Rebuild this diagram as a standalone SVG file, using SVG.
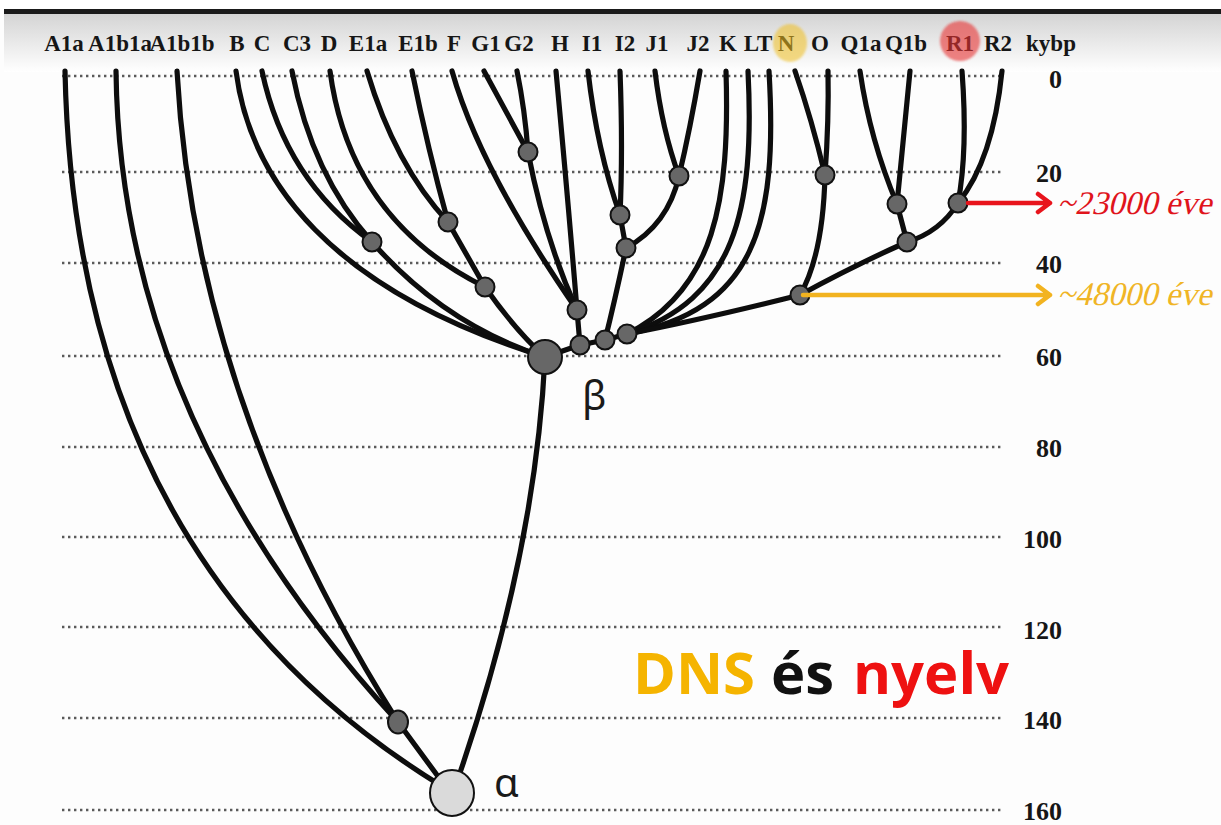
<svg xmlns="http://www.w3.org/2000/svg" width="1221" height="825" viewBox="0 0 1221 825">
<defs>
<linearGradient id="band" x1="0" y1="0" x2="0" y2="1">
<stop offset="0" stop-color="#d4d4d4"/>
<stop offset="1" stop-color="#ffffff"/>
</linearGradient>
<filter id="soft" x="-30%" y="-30%" width="160%" height="160%"><feGaussianBlur stdDeviation="1.2"/></filter>
</defs>
<style>
.grid{stroke:#5a5a5a;stroke-width:2.4;stroke-dasharray:2.4 3.6;fill:none}
.br{fill:none;stroke:#0d0d0d;stroke-width:5.2;stroke-linecap:round}
.nd{fill:#676767;stroke:#111;stroke-width:2}
.lab{font-family:"Liberation Serif","Times New Roman",serif;font-weight:bold;font-size:23px;fill:#161616;text-anchor:middle}
.num{font-family:"Liberation Serif","Times New Roman",serif;font-weight:bold;font-size:26px;fill:#161616;text-anchor:end}
.age{font-family:"Liberation Serif","Times New Roman",serif;font-size:33px}
.greek{font-family:"Noto Sans","DejaVu Sans",sans-serif;font-size:40px;fill:#1a1a1a}
.title{font-family:"Open Sans","Noto Sans",sans-serif;font-weight:bold;font-size:58px}
.arr{fill:none;stroke-width:4.5;stroke-linecap:round;stroke-linejoin:round}
</style>
<rect x="0" y="0" width="1221" height="825" fill="#fdfdfd"/>
<rect x="0" y="0" width="1221" height="10" fill="#ffffff"/>
<rect x="4" y="14" width="1217" height="58" fill="url(#band)"/>
<rect x="4" y="9" width="1217" height="5" fill="#1a1a1a"/>

<g id="grid">
<line class="grid" x1="62" y1="76" x2="1004" y2="76"/>
<line class="grid" x1="62" y1="172" x2="1004" y2="172"/>
<line class="grid" x1="62" y1="263" x2="1004" y2="263"/>
<line class="grid" x1="62" y1="356" x2="1004" y2="356"/>
<line class="grid" x1="62" y1="447" x2="1004" y2="447"/>
<line class="grid" x1="62" y1="537" x2="1004" y2="537"/>
<line class="grid" x1="62" y1="627" x2="1004" y2="627"/>
<line class="grid" x1="62" y1="718" x2="1004" y2="718"/>
<line class="grid" x1="62" y1="810" x2="1004" y2="810"/>
</g>

<g id="axis">
<text class="lab" x="1051" y="51">kybp</text>
<text class="num" x="1062" y="88">0</text>
<text class="num" x="1062" y="182">20</text>
<text class="num" x="1062" y="273">40</text>
<text class="num" x="1062" y="366">60</text>
<text class="num" x="1062" y="457">80</text>
<text class="num" x="1062" y="548">100</text>
<text class="num" x="1062" y="639">120</text>
<text class="num" x="1062" y="729">140</text>
<text class="num" x="1062" y="820">160</text>
</g>

<g id="labels">
<text class="lab" x="64" y="51">A1a</text>
<text class="lab" x="120" y="51">A1b1a</text>
<text class="lab" x="182" y="51">A1b1b</text>
<text class="lab" x="237" y="51">B</text>
<text class="lab" x="262" y="51">C</text>
<text class="lab" x="297" y="51">C3</text>
<text class="lab" x="329" y="51">D</text>
<text class="lab" x="368" y="51">E1a</text>
<text class="lab" x="418" y="51">E1b</text>
<text class="lab" x="454" y="51">F</text>
<text class="lab" x="486" y="51">G1</text>
<text class="lab" x="519" y="51">G2</text>
<text class="lab" x="560" y="51">H</text>
<text class="lab" x="592" y="51">I1</text>
<text class="lab" x="625" y="51">I2</text>
<text class="lab" x="657" y="51">J1</text>
<text class="lab" x="698" y="51">J2</text>
<text class="lab" x="728" y="51">K</text>
<text class="lab" x="758" y="51">LT</text>
<text class="lab" x="786" y="51">N</text>
<text class="lab" x="820" y="51">O</text>
<text class="lab" x="861" y="51">Q1a</text>
<text class="lab" x="906" y="51">Q1b</text>
<text class="lab" x="960" y="51">R1</text>
<text class="lab" x="998" y="51">R2</text>
<ellipse cx="790" cy="43" rx="17" ry="19" fill="#f0c020" fill-opacity="0.55" filter="url(#soft)"/>
<ellipse cx="960" cy="41" rx="20" ry="20" fill="#e83030" fill-opacity="0.6" filter="url(#soft)"/>
</g>

<g id="connectors">
<path class="br" d="M65,71 Q75,560 440,785"/>
<path class="br" d="M116,71 Q120,420 398,722"/>
<path class="br" d="M177,71 Q195,400 398,722"/>
<path class="br" d="M398,722 L448,790"/>
<path class="br" d="M545,357 Q535,560 454,790"/>
<path class="br" d="M236,71 C250,180 330,290 545,357"/>
<path class="br" d="M262,71 Q285,180 372,242"/>
<path class="br" d="M292,71 Q312,175 372,242"/>
<path class="br" d="M372,242 Q445,325 545,357"/>
<path class="br" d="M330,71 Q350,220 485,287"/>
<path class="br" d="M367,71 Q395,165 448,222"/>
<path class="br" d="M412,71 Q428,150 448,222"/>
<path class="br" d="M448,222 L485,287"/>
<path class="br" d="M485,287 Q515,330 545,357"/>
<path class="br" d="M452,71 Q480,170 577,310"/>
<path class="br" d="M484,71 Q505,110 528,152"/>
<path class="br" d="M517,71 Q525,110 528,152"/>
<path class="br" d="M528,152 Q545,240 577,310"/>
<path class="br" d="M556,71 Q568,200 577,310"/>
<path class="br" d="M577,310 L580,345"/>
<path class="br" d="M580,345 L545,357"/>
<path class="br" d="M588,71 Q597,150 620,215"/>
<path class="br" d="M620,71 Q623,150 620,215"/>
<path class="br" d="M655,71 Q662,130 679,176"/>
<path class="br" d="M700,71 Q690,130 679,176"/>
<path class="br" d="M620,215 L626,248"/>
<path class="br" d="M679,176 Q668,225 626,248"/>
<path class="br" d="M626,248 Q615,300 605,340"/>
<path class="br" d="M605,340 L580,345"/>
<path class="br" d="M726,71 C730,200 715,290 627,334"/>
<path class="br" d="M748,71 C755,210 735,300 627,334"/>
<path class="br" d="M769,71 C778,225 755,310 627,334"/>
<path class="br" d="M795,71 Q812,120 825,175"/>
<path class="br" d="M828,71 Q829,120 825,175"/>
<path class="br" d="M825,175 Q823,255 800,295"/>
<path class="br" d="M860,71 Q870,140 897,204"/>
<path class="br" d="M910,71 Q903,140 897,204"/>
<path class="br" d="M962,71 Q968,150 958,203"/>
<path class="br" d="M1002,71 Q993,160 958,203"/>
<path class="br" d="M897,204 L907,242"/>
<path class="br" d="M958,203 Q940,232 907,242"/>
<path class="br" d="M907,242 Q855,265 800,295"/>
<path class="br" d="M800,295 Q700,320 627,334"/>
<path class="br" d="M627,334 L605,340"/>
</g>

<g id="node-G"><circle class="nd" cx="528" cy="152" r="9.5"/></g>
<g id="node-J"><circle class="nd" cx="679" cy="176" r="9.5"/></g>
<g id="node-NO"><circle class="nd" cx="825" cy="175" r="9.5"/></g>
<g id="node-Q"><circle class="nd" cx="897" cy="204" r="9.5"/></g>
<g id="node-R"><circle class="nd" cx="958" cy="203" r="9.5"/></g>
<g id="node-I"><circle class="nd" cx="620" cy="215" r="9.5"/></g>
<g id="node-E"><circle class="nd" cx="448" cy="222" r="9.5"/></g>
<g id="node-C"><circle class="nd" cx="372" cy="242" r="9.5"/></g>
<g id="node-IJ"><circle class="nd" cx="626" cy="248" r="9.5"/></g>
<g id="node-P"><circle class="nd" cx="907" cy="242" r="9.5"/></g>
<g id="node-DE"><circle class="nd" cx="485" cy="287" r="9.5"/></g>
<g id="node-NOP"><circle class="nd" cx="800" cy="295" r="9.5"/></g>
<g id="node-H"><circle class="nd" cx="577" cy="310" r="9.5"/></g>
<g id="node-K"><circle class="nd" cx="627" cy="334" r="9.5"/></g>
<g id="node-IJK"><circle class="nd" cx="605" cy="340" r="9.5"/></g>
<g id="node-F"><circle class="nd" cx="580" cy="345" r="9.5"/></g>
<g id="node-beta"><circle class="nd" cx="545" cy="357" r="17"/><text class="greek" x="582" y="410">β</text></g>
<g id="node-A1b"><ellipse class="nd" cx="398" cy="722" rx="10" ry="11.5"/></g>
<g id="node-alpha"><ellipse cx="452" cy="793" rx="22" ry="23" fill="#dadada" stroke="#111" stroke-width="2"/><text class="greek" x="494" y="797">α</text></g>

<g id="arrow-red">
<path class="arr" stroke="#e8141c" d="M968,203 L1050,203 M1038,194 L1050,203 L1038,212"/>
<text class="age" transform="translate(1057,214) skewX(-14)" x="0" y="0" fill="#e0141c">~23000 éve</text>
</g>
<g id="arrow-orange">
<path class="arr" stroke="#f2b320" d="M803,295 L1050,295 M1038,286 L1050,295 L1038,304"/>
<text class="age" transform="translate(1057,305) skewX(-14)" x="0" y="0" fill="#f0b526">~48000 éve</text>
</g>

<g id="title">
<text class="title" x="633" y="694" fill="#f5b400">DNS</text>
<text class="title" x="771" y="694" fill="#111111">és</text>
<text class="title" x="853" y="694" fill="#ee1111">nyelv</text>
</g>
</svg>
